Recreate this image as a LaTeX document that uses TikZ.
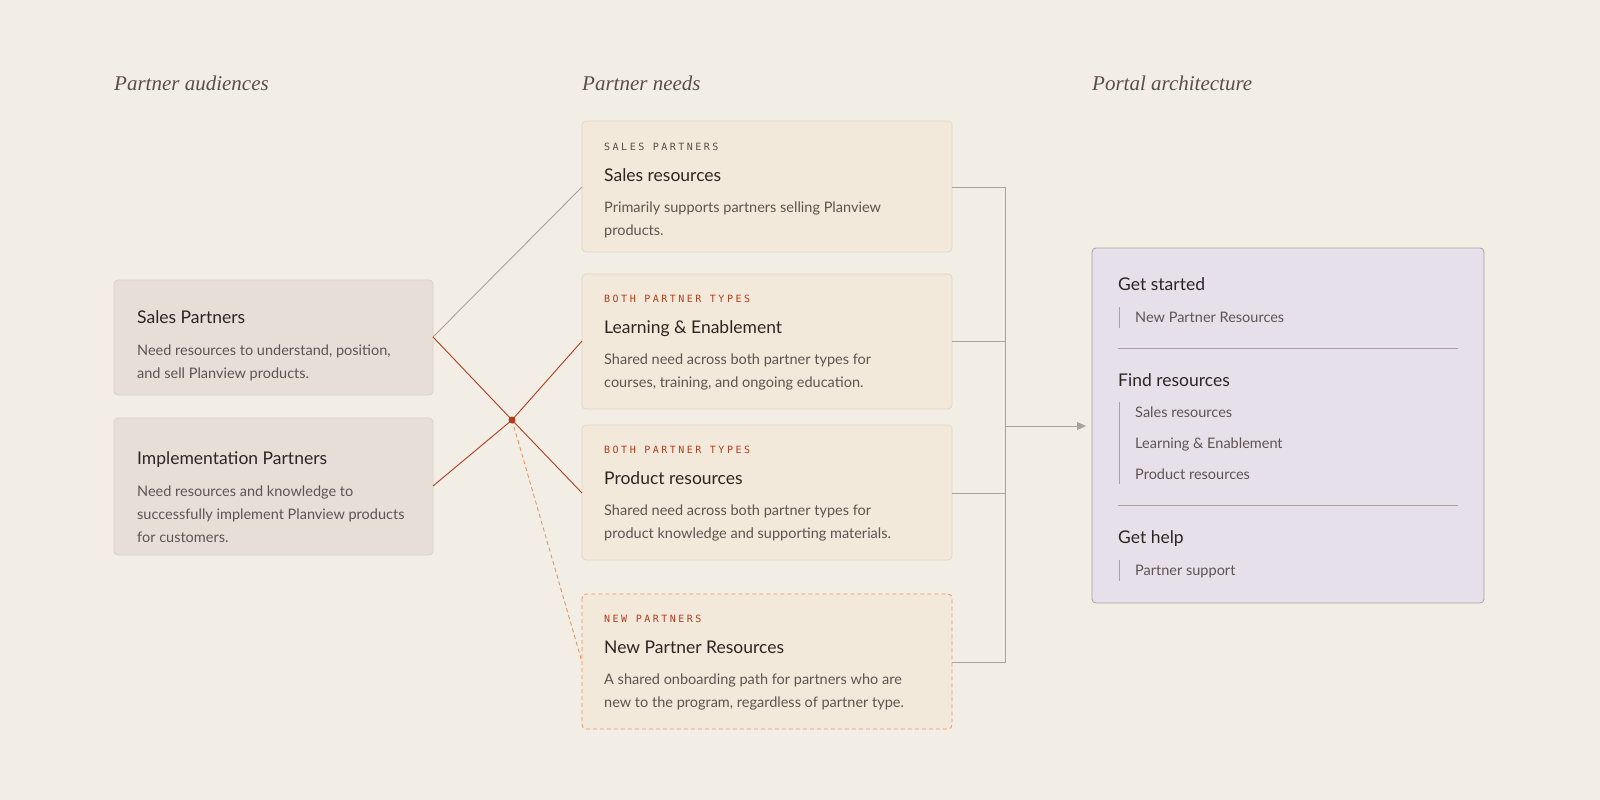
\documentclass[tikz,border=0pt]{standalone}
\usepackage{fontspec}
\setmainfont{Lato}
\newfontfamily\hdrf{Liberation Serif}
\newfontfamily\monof{DejaVu Sans Mono}[LetterSpace=25]
\usetikzlibrary{arrows.meta}
\definecolor{bg}{HTML}{F2EDE5}
\definecolor{needfill}{HTML}{F3E9DA}
\definecolor{needline}{HTML}{E3D6C3}
\definecolor{audfill}{HTML}{E7DED8}
\definecolor{audline}{HTML}{DAD0C9}
\definecolor{portfill}{HTML}{E6E0EA}
\definecolor{portline}{HTML}{A9A2A2}
\definecolor{redc}{HTML}{B03E1E}
\definecolor{orangec}{HTML}{E8955A}
\definecolor{greyc}{HTML}{A8A29A}
\definecolor{titlec}{HTML}{2E2522}
\definecolor{bodyc}{HTML}{5E5450}
\definecolor{hdrc}{HTML}{5A4E48}
\definecolor{labc}{HTML}{5A4E48}
\tikzset{
  box/.style={draw, rounded corners=4pt, line width=0.8pt},
  need/.style={box, fill=needfill, draw=needline},
  aud/.style={box, fill=audfill, draw=audline},
  txt/.style={anchor=base west, inner sep=0pt},
  hdr/.style={txt, font=\hdrf\itshape\fontsize{21}{24}\selectfont, text=hdrc},
  ttl/.style={txt, font=\fontsize{17.5}{20}\selectfont, text=titlec},
  bdy/.style={txt, font=\fontsize{14.5}{17}\selectfont, text=bodyc},
  lab/.style={txt, font=\monof\fontsize{10}{12}\selectfont, text=labc},
  rlab/.style={lab, text=redc},
  conn/.style={line width=0.9pt},
}
\begin{document}
\begin{tikzpicture}[x=1pt,y=-1pt]
\fill[bg] (0,0) rectangle (1600,800);
\useasboundingbox (0,0) rectangle (1600,800);
% headers
\node[hdr] (h1) at (114,90) {Partner audiences};
\node[hdr] (h2) at (582,90) {Partner needs};
\node[hdr] (h3) at (1092,90) {Portal architecture};
% audience boxes
\draw[aud] (114,280) rectangle (433,395);
\coordinate (sp) at (433,337);
\node[ttl] at (137,323) {Sales Partners};
\node[bdy] at (137,355) {Need resources to understand, position,};
\node[bdy] at (137,378) {and sell Planview products.};
\draw[aud] (114,418) rectangle (433,555);
\coordinate (ip) at (433,486);
\node[ttl] at (137,464) {Implementation Partners};
\node[bdy] at (137,496) {Need resources and knowledge to};
\node[bdy] at (137,519) {successfully implement Planview products};
\node[bdy] at (137,542) {for customers.};
% needs boxes
\draw[need] (582,121) rectangle (952,252);
\coordinate (n1l) at (582,187); \coordinate (n1r) at (952,187);
\node[lab] at (604,150) {SALES PARTNERS};
\node[ttl] at (604,181) {Sales resources};
\node[bdy] at (604,212) {Primarily supports partners selling Planview};
\node[bdy] at (604,235) {products.};
\draw[need] (582,274) rectangle (952,409);
\coordinate (n2l) at (582,341); \coordinate (n2r) at (952,341);
\node[rlab] at (604,302) {BOTH PARTNER TYPES};
\node[ttl] at (604,333) {Learning \& Enablement};
\node[bdy] at (604,364) {Shared need across both partner types for};
\node[bdy] at (604,387) {courses, training, and ongoing education.};
\draw[need] (582,425) rectangle (952,560);
\coordinate (n3l) at (582,493); \coordinate (n3r) at (952,493);
\node[rlab] at (604,453) {BOTH PARTNER TYPES};
\node[ttl] at (604,484) {Product resources};
\node[bdy] at (604,515) {Shared need across both partner types for};
\node[bdy] at (604,538) {product knowledge and supporting materials.};
\draw[box, fill=needfill, draw=orangec, dash pattern=on 4pt off 3pt] (582,594) rectangle (952,729);
\coordinate (n4l) at (582,662); \coordinate (n4r) at (952,662);
\node[rlab] at (604,622) {NEW PARTNERS};
\node[ttl] at (604,653) {New Partner Resources};
\node[bdy] at (604,684) {A shared onboarding path for partners who are};
\node[bdy] at (604,707) {new to the program, regardless of partner type.};
% hub
\coordinate (hub) at (512,420);
\draw[conn, greyc] (sp) -- (n1l);
\draw[conn, redc] (sp) -- (hub) -- (n3l);
\draw[conn, redc] (ip) -- (hub) -- (n2l);
\draw[conn, orangec, dash pattern=on 4pt off 3pt] (hub) -- (n4l);
\fill[redc] (hub) circle (3.5pt);
% bracket
\coordinate (bt) at (1005,187); \coordinate (bb) at (1005,662);
\coordinate (bm) at (1005,426); \coordinate (pa) at (1086,426);
\draw[conn, greyc] (n1r) -- (bt) -- (bb) -- (n4r);
\draw[conn, greyc] (n2r) -- (1005,341);
\draw[conn, greyc] (n3r) -- (1005,493);
\draw[conn, greyc, -{Triangle[length=9pt,width=8pt]}] (bm) -- (pa);
% portal
\draw[box, fill=portfill, draw=portline] (1092,248) rectangle (1484,603);
\node[ttl] at (1118,290) {Get started};
\draw[greyc, line width=0.8pt] (1119,307) -- (1119,328);
\node[bdy] at (1135,322) {New Partner Resources};
\draw[greyc, line width=0.7pt] (1118,348) -- (1458,348);
\node[ttl] at (1118,386) {Find resources};
\draw[greyc, line width=0.8pt] (1119,402) -- (1119,484);
\node[bdy] at (1135,417) {Sales resources};
\node[bdy] at (1135,448) {Learning \& Enablement};
\node[bdy] at (1135,479) {Product resources};
\draw[greyc, line width=0.7pt] (1118,505) -- (1458,505);
\node[ttl] at (1118,543) {Get help};
\draw[greyc, line width=0.8pt] (1119,560) -- (1119,581);
\node[bdy] at (1135,575) {Partner support};
\end{tikzpicture}
\end{document}
